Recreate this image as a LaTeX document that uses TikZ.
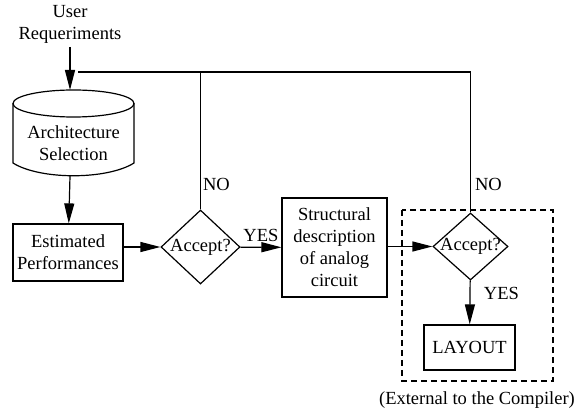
\documentclass[tikz,border=0pt]{standalone}
\usepackage{fontspec}
\setmainfont{Liberation Serif}
\usetikzlibrary{arrows.meta,shapes.geometric}

\begin{document}
\begin{tikzpicture}[x=1pt,y=-1pt,line width=1.2pt,
  font=\fontsize{18.5}{22}\selectfont,
  box/.style={draw,align=center,inner sep=0pt},
  dia/.style={draw,diamond,inner sep=0pt},
  >={Triangle[length=20pt,width=10pt]}]
\useasboundingbox (0,0) rectangle (574,409);
%\draw[thin,gray,step=20] (0,0) grid (574,409);

\node[align=center] (user) at (70,24) {User\\Requeriments};

% cylinder
\draw (73.5,103.5) ellipse (60.5 and 13.5);
\draw (13,103.5) -- (13,163) .. controls (40,180) and (107,180) .. (134,163) -- (134,103.5);
\node[align=center] (arch) at (73.5,143) {Architecture\\Selection};
\coordinate (archtop) at (70,90);
\coordinate (archbot) at (70,176);

\node[box,minimum width=110pt,minimum height=57pt] (est) at (68,252.5) {Estimated\\Performances};
\node[dia,minimum width=79pt,minimum height=74pt] (acc1) at (200.5,247) {\makebox[0pt]{Accept?}};
\node[box,minimum width=105pt,minimum height=99pt] (str) at (334.5,247.5) {Structural\\description\\of analog\\circuit};
\node[dia,minimum width=75pt,minimum height=67pt] (acc2) at (470.5,246.5) {\makebox[0pt]{Accept?}};
\node[box,minimum width=91pt,minimum height=45pt] (lay) at (469.5,347.5) {LAYOUT};

\draw[dashed,dash pattern=on 6pt off 4pt] (402,210) rectangle (553,381);
\node (ext) at (477,400) {(External to the Compiler)};

\draw[->] (user) -- (archtop);
\draw[->] (archbot) -- (est);
\draw[->] (est.east |- acc1) -- (acc1);
\draw[->] (acc1) -- (str) node[midway,above,yshift=2pt]{YES};
\draw[->] (str.east |- acc2) -- (acc2);
\draw[->] (acc2) -- (lay) node[pos=0.3,right,xshift=10pt]{YES};

% feedback
\coordinate (join) at (78,72);
\draw (acc1.north) -- node[pos=0.18,right,inner sep=2pt]{NO} (acc1.north |- join) -- (join);
\draw (acc2.north) -- node[pos=0.2,right,inner sep=4pt]{NO} (acc2.north |- join) -- (acc1.north |- join);
\end{tikzpicture}
\end{document}
